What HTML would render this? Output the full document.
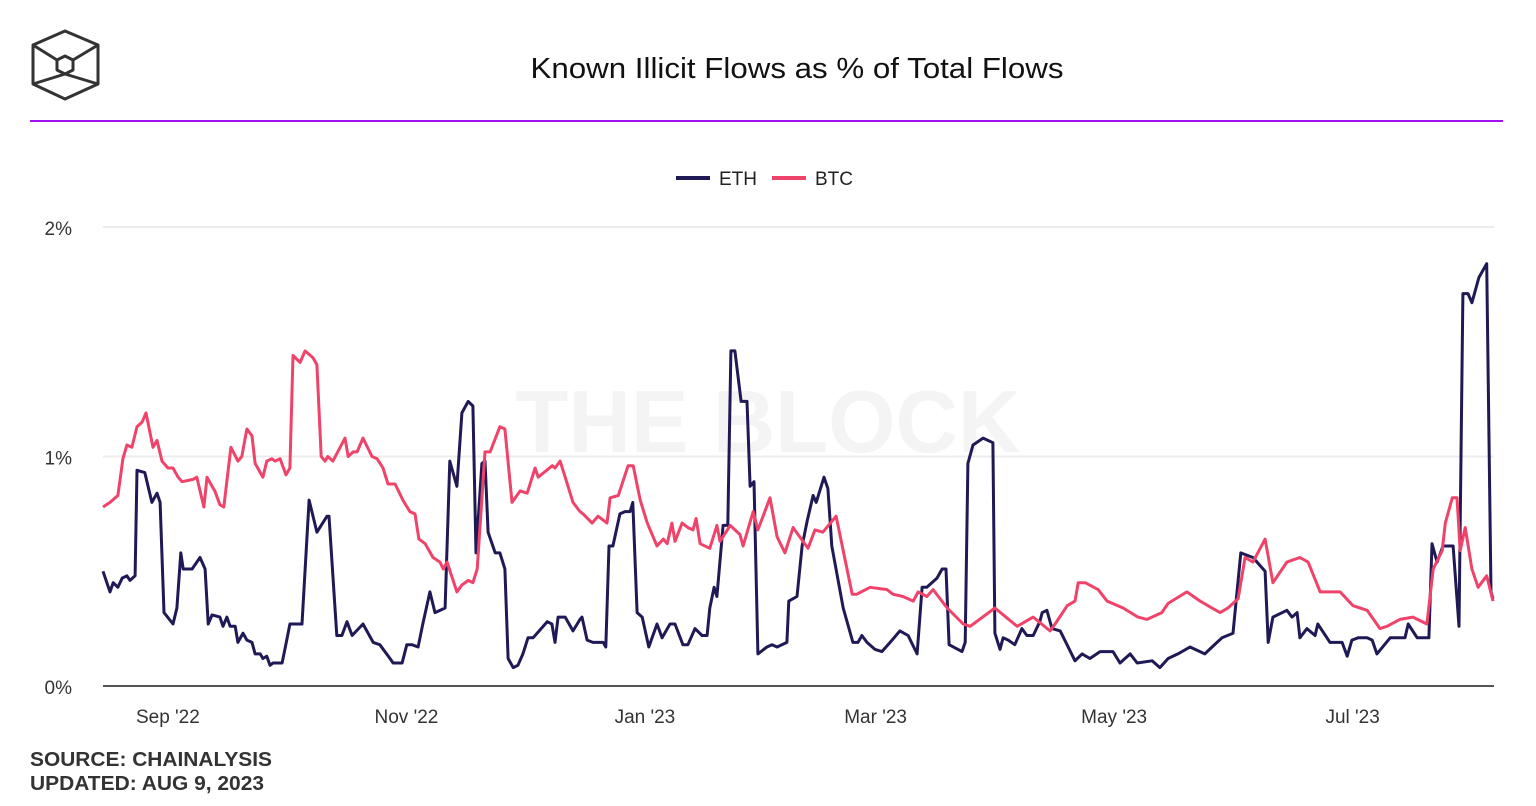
<!DOCTYPE html>
<html><head><meta charset="utf-8"><style>
html,body{margin:0;padding:0;background:#fff;}
body{width:1536px;height:806px;overflow:hidden;position:relative;font-family:"Liberation Sans",sans-serif;}
svg{position:absolute;left:0;top:0;}
</style></head><body>
<svg id="chart" width="1536" height="806" viewBox="0 0 1536 806">
  <g fill="none" stroke="#333" stroke-width="3" stroke-linejoin="round">
    <polygon points="65,31 98,45 98,84 65,99 33,84 33,45"/>
    <polygon points="65,56 73,60 73,70 65,74 57,70 57,60"/>
    <line x1="33" y1="45" x2="57" y2="60"/><line x1="98" y1="45" x2="73" y2="60"/>
    <line x1="33" y1="84" x2="65" y2="74"/><line x1="98" y1="84" x2="65" y2="74"/>
  </g>
  <text x="797" y="78" text-anchor="middle" font-size="29" textLength="533" lengthAdjust="spacingAndGlyphs" fill="#111">Known Illicit Flows as % of Total Flows</text>
  <line x1="30" y1="121" x2="1503" y2="121" stroke="#a010f0" stroke-width="2"/>
  <g>
    <g>
      <line x1="676" y1="178" x2="710" y2="178" stroke="#1f1a56" stroke-width="4"/>
      <text x="719" y="185" font-size="19" fill="#222">ETH</text>
    </g>
    <g>
      <line x1="772" y1="178" x2="806" y2="178" stroke="#f0436a" stroke-width="4"/>
      <text x="815" y="185" font-size="19" fill="#222">BTC</text>
    </g>
  </g>
  <text x="768" y="452" text-anchor="middle" font-size="88" font-weight="bold" textLength="505" lengthAdjust="spacingAndGlyphs" fill="#f4f4f4">THE BLOCK</text>
  <g id="grid"></g>
  <g id="yticks"></g>
  <g id="xticks"></g>
  <line x1="103" y1="686" x2="1494" y2="686" stroke="#555" stroke-width="2"/>
  <g id="series"></g>
  <text x="30" y="766" font-size="20" font-weight="bold" textLength="242" lengthAdjust="spacingAndGlyphs" fill="#333">SOURCE: CHAINALYSIS</text>
  <text x="30" y="790" font-size="20" font-weight="bold" textLength="234" lengthAdjust="spacingAndGlyphs" fill="#333">UPDATED: AUG 9, 2023</text>
</svg>
<script>
const yTicks=[0,1,2];
const yTickLabels=["0%","1%","2%"];
const xTickDays=[16.6,77.6,138.6,197.6,258.6,319.6];
const xTickLabels=["Sep '22","Nov '22","Jan '23","Mar '23","May '23","Jul '23"];
const ethDays=[0,1.8,2.6,3.8,4.9,6.1,6.9,8.2,8.7,10.7,12.5,13.8,14.6,15.6,17.9,18.9,19.9,20.5,22.8,24.8,26.1,26.9,27.9,29.9,30.7,31.7,32.5,33.8,34.5,35.8,36.8,38.1,38.9,40.2,40.9,41.9,42.7,43.5,45.8,47.1,47.8,50.9,52.7,54.7,57.3,57.8,59.8,61.1,62.4,63.7,66.5,69.1,70.8,73.4,74.2,76.5,77.7,79.0,80.6,81.8,83.6,84.9,87.5,88.7,90.5,91.8,93.4,94.6,95.4,96.9,97.7,98.5,100.3,101.5,102.8,103.6,104.9,106.1,107.4,108.7,110.0,113.6,114.8,115.6,116.4,118.2,120.2,122.0,122.5,123.8,125.3,127.9,128.6,129.4,130.4,132.2,133.5,134.8,135.5,136.6,137.9,139.6,141.7,143.0,145.0,146.3,148.3,149.6,151.4,153.2,154.5,155.2,156.3,157.0,158.6,159.8,160.6,161.6,163.2,164.7,165.5,166.5,167.5,169.8,171.1,172.4,174.9,175.4,177.5,178.8,180.1,181.6,182.4,184.4,185.4,186.4,189.3,191.8,193.1,194.1,195.4,197.4,199.2,201.3,203.8,205.9,208.2,209.5,210.7,213.3,214.6,215.6,216.4,219.7,220.5,221.2,222.5,225.1,227.6,228.1,229.4,230.2,231.5,233.2,235.0,236.3,237.9,239.6,240.2,241.4,242.7,244.8,248.6,250.4,252.4,255.0,258.3,260.1,262.7,264.5,268.3,270.3,272.4,274.9,278.0,281.8,284.9,286.2,289.0,291.0,294.1,297.2,298.0,299.2,302.8,304.1,305.4,306.1,307.9,310.0,310.7,313.8,316.9,318.2,319.4,321.0,323.3,324.6,325.8,329.2,333.0,333.8,336.1,339.1,339.9,341.2,342.7,345.3,346.8,347.8,349.1,350.1,351.9,353.9,355.0,355.5];
const ethValues=[.50,.41,.45,.43,.47,.48,.46,.48,.94,.93,.80,.84,.80,.32,.27,.34,.58,.51,.51,.56,.51,.27,.31,.30,.26,.30,.26,.26,.19,.23,.20,.19,.14,.14,.12,.13,.09,.10,.10,.21,.27,.27,.81,.67,.74,.74,.22,.22,.28,.22,.27,.19,.18,.12,.10,.10,.18,.18,.17,.27,.41,.32,.34,.98,.87,1.19,1.24,1.22,.58,.97,.98,.67,.58,.58,.51,.12,.08,.09,.14,.21,.21,.28,.27,.19,.30,.30,.24,.29,.30,.20,.19,.19,.17,.61,.61,.75,.76,.76,.80,.32,.30,.17,.27,.21,.27,.27,.18,.18,.25,.22,.22,.34,.43,.39,.70,.70,1.46,1.46,1.24,1.24,.87,.89,.14,.17,.18,.17,.19,.37,.39,.61,.72,.83,.80,.91,.86,.61,.34,.19,.19,.22,.19,.16,.15,.19,.24,.22,.14,.43,.43,.47,.51,.51,.18,.15,.19,.97,1.05,1.08,1.06,.23,.16,.21,.20,.18,.25,.22,.22,.28,.32,.33,.25,.24,.11,.14,.12,.15,.15,.10,.14,.10,.11,.08,.12,.14,.17,.14,.19,.21,.23,.58,.56,.50,.19,.30,.33,.30,.32,.21,.25,.22,.27,.19,.19,.13,.20,.21,.21,.20,.14,.21,.21,.27,.21,.21,.62,.54,.61,.61,.26,1.71,1.71,1.67,1.78,1.84,.41,.38];
const btcDays=[0,1.8,3.8,5.1,6.1,7.4,8.7,10.0,11.0,12.8,13.8,15.1,16.6,17.9,19.2,20.2,23.0,24.0,25.8,26.6,27.9,28.6,29.9,30.9,32.7,34.5,35.5,36.8,38.1,38.9,40.9,41.9,43.2,44.0,45.3,46.8,47.8,48.6,50.4,51.7,53.7,54.7,55.8,56.8,57.5,58.8,61.9,62.7,64.0,65.0,66.5,68.8,70.1,71.6,72.9,74.7,76.7,78.5,79.8,80.8,82.4,84.4,86.2,87.0,88.0,90.5,91.8,93.4,94.6,95.7,97.7,99.0,101.5,102.8,104.6,106.7,108.5,110.5,111.3,114.9,115.6,116.9,118.2,120.2,122.0,122.8,125.1,126.6,128.9,129.7,131.8,134.3,135.6,137.4,139.2,141.7,143.3,144.3,145.5,146.3,148.1,149.6,150.9,151.7,152.7,155.2,157.0,157.8,160.4,162.9,163.7,166.3,167.5,170.6,172.4,174.4,176.5,180.3,182.1,184.1,187.5,191.6,192.8,196.2,200.5,202.0,204.6,207.2,208.5,210.7,212.3,215.9,220.0,221.8,228.1,233.8,237.9,242.2,243.5,246.6,248.6,249.4,251.2,254.5,256.8,260.9,264.7,267.0,270.8,272.4,277.2,280.6,283.6,285.7,287.7,290.3,292.1,294.1,297.2,299.2,302.8,306.1,308.2,311.3,316.4,319.7,323.3,326.6,328.4,331.7,335.0,338.6,340.2,342.5,343.3,345.1,346.3,347.1,348.4,350.1,351.7,353.9,355.5];
const btcValues=[.78,.80,.83,.99,1.05,1.04,1.13,1.15,1.19,1.04,1.07,.98,.95,.95,.91,.89,.90,.91,.78,.91,.87,.85,.79,.78,1.04,.98,1.00,1.12,1.09,.97,.91,.98,.99,.98,.99,.92,.95,1.44,1.41,1.46,1.43,1.40,1.00,.98,1.00,.98,1.08,1.00,1.02,1.02,1.08,1.00,.99,.95,.88,.88,.81,.76,.75,.64,.62,.56,.54,.51,.54,.41,.44,.46,.45,.51,1.02,1.02,1.13,1.12,.80,.85,.84,.95,.91,.96,.95,.98,.91,.80,.76,.75,.71,.74,.71,.82,.83,.96,.96,.81,.71,.61,.64,.62,.71,.63,.71,.69,.68,.73,.62,.60,.70,.63,.70,.66,.61,.76,.68,.82,.65,.58,.69,.60,.68,.67,.74,.40,.40,.43,.42,.40,.39,.37,.41,.39,.42,.34,.27,.26,.34,.26,.30,.24,.27,.35,.37,.45,.45,.42,.37,.34,.30,.29,.32,.36,.41,.37,.34,.32,.34,.38,.56,.54,.64,.45,.54,.56,.54,.41,.41,.35,.33,.25,.26,.29,.30,.27,.51,.59,.71,.82,.82,.59,.69,.51,.43,.48,.37];

const X0=103,X1=1494,PXDAY=3.91;
function xScale(d){return X0+d*PXDAY;}
function yScale(v){return 686-v*229.5;}
const NS="http://www.w3.org/2000/svg";
function mk(tag,attrs,parent){const e=document.createElementNS(NS,tag);for(const k in attrs)e.setAttribute(k,attrs[k]);parent.appendChild(e);return e;}
const grid=document.getElementById('grid'),yt=document.getElementById('yticks'),xt=document.getElementById('xticks'),ser=document.getElementById('series');
yTicks.forEach((v,i)=>{
  if(v>0){const g=mk('line',{x1:X0,x2:X1,y1:yScale(v),y2:yScale(v),stroke:'#ececec','stroke-width':2},grid);
  
  }
  const t=mk('text',{x:72,y:yScale(v)+8,'text-anchor':'end','font-size':19,fill:'#333'},yt);
  t.textContent=yTickLabels[i];
  
  
});
xTickDays.forEach((d,i)=>{
  const t=mk('text',{x:xScale(d),y:723,'text-anchor':'middle','font-size':19,fill:'#333'},xt);
  t.textContent=xTickLabels[i];
  
  
});
function pathFor(days,vals){return days.map((d,i)=>(i?'L':'M')+xScale(d).toFixed(1)+','+yScale(vals[i]).toFixed(1)).join(' ');}
const eth=mk('path',{d:pathFor(ethDays,ethValues),fill:'none',stroke:'#1f1a56','stroke-width':3,'stroke-linejoin':'round'},ser);


const btc=mk('path',{d:pathFor(btcDays,btcValues),fill:'none',stroke:'#f0436a','stroke-width':3,'stroke-linejoin':'round'},ser);


</script>
</body></html>
